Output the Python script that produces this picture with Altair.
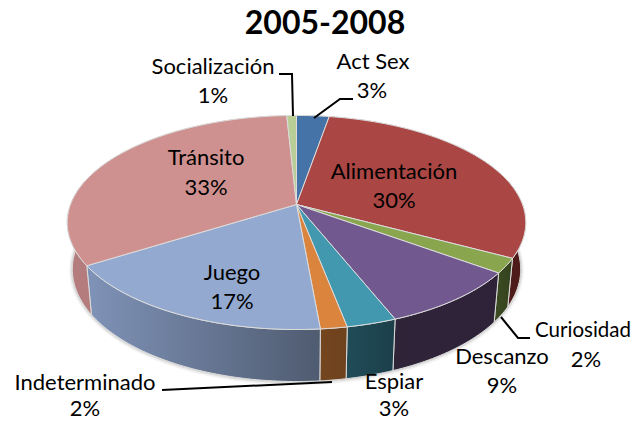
import math
import altair as alt
import pandas as pd

# --- chart values ---
categories = ["Act Sex", "Alimentación", "Curiosidad", "Descanzo", "Espiar",
              "Indeterminado", "Juego", "Tránsito", "Socialización"]
shares = [2.7, 30.2, 2.2, 8.9, 3.0, 1.6, 17.4, 33.2, 0.8]
percent_labels = ["3%", "30%", "2%", "9%", "3%", "2%", "17%", "33%", "1%"]
title_text = "2005-2008"

top_colors = ["#4572A7", "#AA4643", "#89A54E", "#71588F", "#4198AF",
              "#DB843D", "#93A9CF", "#CF918F", "#B9CD96"]
wall_colors = [("#2c4a70", "#2c4a70"), ("#4d1b1a", "#4d1b1a"), ("#3c4c22", "#34421e"),
               ("#2f2438", "#2d2238"), ("#1f4c58", "#1c3f4a"), ("#74461f", "#6e421e"),
               ("#7f93b8", "#4f5b70"), ("#b47c7c", "#b47c7c"), ("#7a8a5f", "#7a8a5f")]

# --- layout of the tilted pie (reference pixels) ---
W, H = 631, 423
CX, CY = 296.5, 203.5
A_TOP, B_TOP = 226, 104
A_BOT, B_BOT, CY_BOT = 221, 109, 249.5
P = 0.168
EDGE = "#dcdcdc"

label_pos = {
    "Act Sex": (373, 61, 372, 90), "Alimentación": (394, 171, 394, 200),
    "Curiosidad": (583, 330, 586, 359), "Descanzo": (502, 356, 502, 385),
    "Espiar": (394, 381, 394, 408), "Indeterminado": (85, 382, 85, 408),
    "Juego": (232, 272, 232, 301), "Tránsito": (206, 157, 206, 187),
    "Socialización": (213, 66, 213, 95),
}
label_size = {"Curiosidad": 20.5}
leaders = {
    "Socialización": [(279, 73), (292, 73), (293, 115)],
    "Act Sex": [(353, 98), (340, 98), (314, 117)],
    "Curiosidad": [(530, 337), (518, 337), (501, 316)],
    "Indeterminado": [(162, 389), (332, 381)],
}


def rim(phi, a, b, cy):
    u, v = math.sin(phi), -math.cos(phi)
    d = 1 - P * v
    return CX + a * u / d, cy + b * v / d


def arc(start, end):
    n = max(2, int((end - start) / 0.02) + 1)
    return [start + (end - start) * i / n for i in range(n + 1)]


xs = alt.Scale(domain=[8, W], range=[0, W - 8])
ys = alt.Scale(domain=[8, H], range=[0, H - 8])


def poly(points, **mark):
    closed = list(points) + [points[0]]
    df = pd.DataFrame({"x": [p[0] for p in closed], "y": [p[1] for p in closed],
                       "i": list(range(len(closed)))})
    return alt.Chart(df).mark_line(interpolate="linear", **mark).encode(
        x=alt.X("x:Q", scale=xs, axis=None),
        y=alt.Y("y:Q", scale=ys, axis=None),
        order="i:Q",
    )


total = sum(shares)
bounds = [0.0]
for s in shares:
    bounds.append(bounds[-1] + s / total * 2 * math.pi)

layers = []

# soft shadow under the base
for grow, op in [(3.0, 0.1), (1.5, 0.2)]:
    pts = [rim(p, A_BOT + grow, B_BOT + grow, CY_BOT) for p in arc(0, 2 * math.pi)]
    layers.append(poly(pts, fill="#808080", fillOpacity=op, strokeOpacity=0))

# side walls
for k in range(len(categories)):
    phis = arc(bounds[k], bounds[k + 1])
    pts = [rim(p, A_TOP, B_TOP, CY) for p in phis] + \
          [rim(p, A_BOT, B_BOT, CY_BOT) for p in reversed(phis)]
    c0, c1 = wall_colors[k]
    grad = alt.LinearGradient(gradient="linear", x1=0, y1=0, x2=1, y2=0,
                              stops=[alt.GradientStop(color=c0, offset=0),
                                     alt.GradientStop(color=c1, offset=1)])
    layers.append(poly(pts, fill=grad, stroke=EDGE, strokeWidth=1))

# top face
for k in range(len(categories)):
    phis = arc(bounds[k], bounds[k + 1])
    pts = [(CX, CY)] + [rim(p, A_TOP, B_TOP, CY) for p in phis]
    layers.append(poly(pts, fill=top_colors[k], stroke=EDGE, strokeWidth=1))

# leader lines
for name, pts in leaders.items():
    df = pd.DataFrame({"x": [p[0] for p in pts], "y": [p[1] for p in pts],
                       "i": list(range(len(pts)))})
    layers.append(alt.Chart(df).mark_line(color="#000000", strokeWidth=2).encode(
        x=alt.X("x:Q", scale=xs, axis=None),
        y=alt.Y("y:Q", scale=ys, axis=None),
        order="i:Q"))

# labels
rows = []
for name, pct in zip(categories, percent_labels):
    x1, y1, x2, y2 = label_pos[name]
    rows.append({"t": name, "x": x1, "y": y1, "s": label_size.get(name, 22)})
    rows.append({"t": pct, "x": x2, "y": y2, "s": 22})
layers.append(alt.Chart(pd.DataFrame(rows)).mark_text(
    font="Lato", color="#000000", align="center", baseline="middle"
).encode(
    x=alt.X("x:Q", scale=xs, axis=None),
    y=alt.Y("y:Q", scale=ys, axis=None),
    size=alt.Size("s:Q", scale=None),
    text="t:N"))

layers.append(alt.Chart(pd.DataFrame({"t": [title_text], "x": [325], "y": [23]})).mark_text(
    font="Lato", fontSize=32, fontWeight="bold", color="#000000", align="center", baseline="middle"
).encode(
    x=alt.X("x:Q", scale=xs, axis=None),
    y=alt.Y("y:Q", scale=ys, axis=None),
    text="t:N"))

chart = alt.layer(*layers).properties(
    width=W - 8, height=H - 8, padding=0
).configure_view(stroke=None).resolve_scale(x="shared", y="shared")

chart.save("out.html", embed_options={"renderer": "svg", "actions": False})
